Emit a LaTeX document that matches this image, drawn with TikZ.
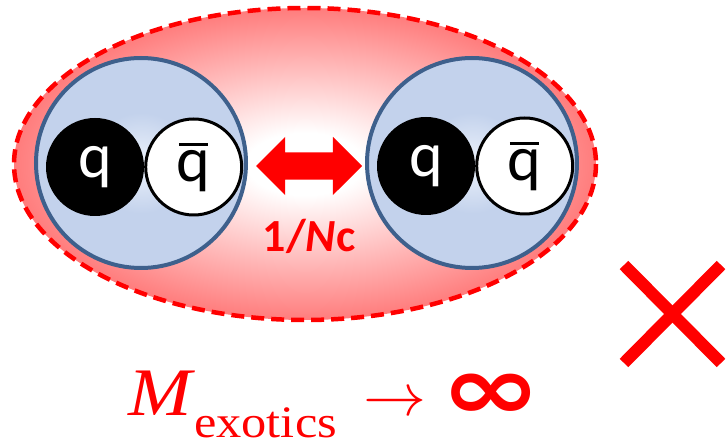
\RequirePackage{fix-cm}
\documentclass[tikz,border=0pt]{standalone}
\usepackage{fontspec}
\newfontfamily\calfont{Carlito}
\newfontfamily\tmsfont{Liberation Serif}
\newfontfamily\djvfont{DejaVu Sans}
\usetikzlibrary{positioning, shapes.arrows}

\definecolor{halored}{RGB}{255,98,98}
\definecolor{mesonblue}{RGB}{195,210,236}
\definecolor{mesonedge}{RGB}{62,96,140}
\definecolor{mesoncore}{RGB}{236,242,251}
\pgfdeclareradialshading{glow}{\pgfpoint{0bp}{0bp}}{color(0bp)=(white); color(5bp)=(white); color(29bp)=(halored); color(50bp)=(halored)}
\pgfdeclareradialshading{mesonglow}{\pgfpoint{0bp}{0bp}}{color(0bp)=(mesoncore); color(12bp)=(mesonblue); color(50bp)=(mesonblue)}

\newcommand{\antiq}{\setbox0\hbox{q}\rlap{\hbox to\wd0{\hss\rule[0.55em]{0.46em}{0.05em}\hss}}\box0}
\newcommand{\wide}[2][1.12]{\scalebox{#1}[1]{#2}}

\begin{document}
\begin{tikzpicture}[x=1pt, y=-1pt,
                halo/.style={draw=red, line width=4.5pt, dash pattern=on 13pt off 7pt, shading=glow},
                meson/.style={circle, draw=mesonedge, line width=4pt, shading=mesonglow, minimum size=210pt, inner sep=0pt},
                quark/.style={circle, fill=black, text=white, minimum size=98pt, inner sep=0pt, font=\calfont\fontsize{64}{64}\selectfont},
                antiquark/.style={circle, draw=black, line width=3pt, fill=white, minimum size=96pt, inner sep=0pt, font=\calfont\fontsize{64}{64}\selectfont},
                link/.style={double arrow, fill=red, text height=13.5pt, text depth=13.5pt, minimum height=106pt, double arrow head extend=15.5pt, inner sep=0pt},
                redtext/.style={text=red, inner sep=0pt}
            ]
            \useasboundingbox (0,0) rectangle (726,446);

            % Huelle
            \path[halo] (305,164) ellipse [x radius=291, y radius=156];

            % Mesonen
            \node[meson] (lmeson) at (141,163) {};
            \node[meson] (rmeson) at (472,163) {};
            \node[quark] (lq) at (95,167) {q};
            \node[antiquark, right=0pt of lq] (lqbar) {\antiq};
            \node[quark] (rq) at (426,166) {q};
            \node[antiquark, right=0pt of rq] (rqbar) {\antiq};

            % Kopplung
            \node[link] (coupling) at (309,166) {};
            \node[redtext, below=39pt of coupling, font=\calfont\bfseries\fontsize{46}{46}\selectfont] (nclabel) {1/\textit{N}c};

            % Masse
            \node[redtext, anchor=base west, font=\tmsfont\itshape\fontsize{68}{68}\selectfont] (mass) at (128,416) {\wide{M}};
            \node[redtext, anchor=base west, font=\tmsfont\fontsize{45}{45}\selectfont] (exotics) at (194,437) {\wide{exotics}};
            \node[redtext, anchor=base west, font=\fontsize{60}{60}\selectfont] (limit) at (363,416) {\wide[1.05]{$\rightarrow$}};
            \node[redtext, anchor=base west, font=\djvfont\bfseries\fontsize{90}{90}\selectfont] (infsign) at (440,420) {\wide[1.35]{∞}};

            % Kreuz
            \draw[red, line width=12pt] (624,265) -- (721,363);
            \draw[red, line width=12pt] (624,363) -- (721,265);

        \end{tikzpicture}
\end{document}
